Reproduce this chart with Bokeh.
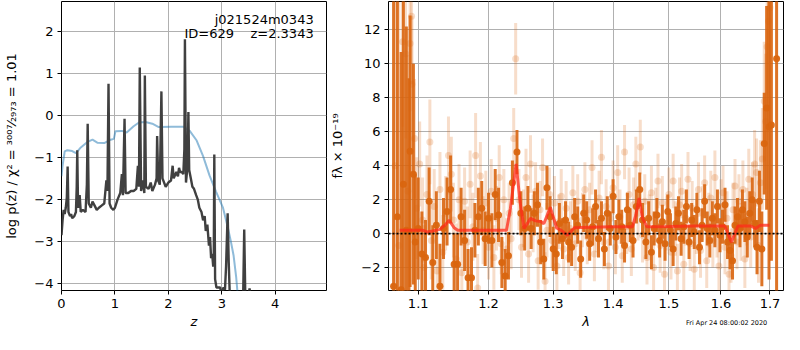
from bokeh.plotting import figure
from bokeh.layouts import row, column
from bokeh.models import Range1d, FixedTicker, Label, PrintfTickFormatter, ColumnDataSource, Div
from bokeh.embed import file_html
from bokeh.resources import INLINE

FONT = "DejaVu Sans"

# ---------------- left panel: log p(z) ----------------
pz_z = [0.00, 0.02, 0.04, 0.06, 0.08, 0.10, 0.115, 0.13, 0.16, 0.18, 0.20, 0.24, 0.27, 0.285, 0.295, 0.31,
        0.34, 0.36, 0.40, 0.45, 0.475, 0.49, 0.51, 0.55, 0.58, 0.62, 0.66, 0.70, 0.75, 0.80, 0.84, 0.86,
        0.88, 0.90, 0.93, 0.97, 1.00, 1.05, 1.10, 1.13, 1.15, 1.18, 1.20, 1.25, 1.30, 1.35, 1.40, 1.43,
        1.45, 1.465, 1.49, 1.53, 1.55, 1.56, 1.58, 1.63, 1.67, 1.70, 1.75, 1.78, 1.79, 1.81, 1.84, 1.87,
        1.89, 1.95, 2.00, 2.05, 2.08, 2.10, 2.15, 2.18, 2.20, 2.22, 2.25, 2.28, 2.30, 2.31, 2.33, 2.36,
        2.375, 2.39, 2.42, 2.45, 2.48, 2.52, 2.55, 2.58, 2.62, 2.65, 2.68, 2.70, 2.73, 2.76, 2.78, 2.80,
        2.82, 2.84, 2.85, 2.86, 2.875, 2.90, 2.93, 2.97, 3.00, 3.03, 3.06, 3.08, 3.11, 3.13, 3.15, 3.40,
        3.42, 3.44, 3.50, 3.52, 3.54]
pz_logp = [-2.85, -2.5, -2.25, -2.35, -2.2, -1.95, -1.22, -2.3, -2.4, -2.35, -2.45, -2.4, -2.3, -1.7, -0.83, -2.2,
           -1.9, -2.3, -2.25, -2.3, -1.65, -0.2, -2.1, -2.2, -2.05, -2.15, -2.25, -2.2, -2.15, -2.1, -1.55, -1.8,
           0.75, -2.1, -2.2, -2.25, -2.2, -2.0, -1.85, -1.4, -1.9, -0.08, -1.85, -1.85, -1.8, -1.8, -1.75, -1.2,
           -1.7, 1.14, -1.8, -1.55, -1.85, 0.95, -1.7, -1.75, -1.6, -1.8, -1.65, -1.5, -0.49, -1.55, -1.65, 0.57,
           -1.5, -1.7, -1.6, -1.55, -1.2, -1.5, -1.35, -1.45, -1.25, -1.35, -1.35, -1.4, -0.8, 1.81, -1.6, -1.2,
           0.08, -1.3, -1.5, -1.7, -1.75, -1.9, -2.0, -2.2, -2.3, -2.5, -2.4, -2.75, -2.6, -3.1, -2.9, -3.4,
           -3.3, -3.6, -3.4, -0.93, -3.9, -4.1, -4.1, -4.1, -4.3, -4.1, -4.15, -3.6, -2.33, -3.5, -4.3, -4.3,
           -2.72, -4.3, -4.3, -4.12, -4.3]

chi_z = [0.00, 0.02, 0.06, 0.11, 0.20, 0.27, 0.35, 0.49, 0.58, 0.67, 0.80, 0.92, 0.98, 1.01, 1.13, 1.22, 1.35,
         1.45, 1.57, 1.70, 1.82, 2.06, 2.28, 2.40, 2.53, 2.65, 2.77, 2.89, 3.02, 3.11, 3.17, 3.22, 3.27, 3.30]
chi_logp = [-1.45, -1.2, -0.86, -0.83, -0.85, -0.9, -0.78, -0.63, -0.58, -0.65, -0.66, -0.58, -0.56, -0.38, -0.37,
            -0.41, -0.26, -0.17, -0.16, -0.2, -0.28, -0.27, -0.27, -0.37, -0.6, -0.97, -1.43, -1.81, -2.19, -2.65,
            -3.0, -3.33, -3.86, -4.3]

pz_xticks = [0, 1, 2, 3, 4]
pz_yticks = [-4, -3, -2, -1, 0, 1, 2]

# ---------------- right panel: spectrum ----------------
dark_lam = [1.067, 1.072, 1.077, 1.080, 1.084, 1.0875, 1.089, 1.0935, 1.096, 1.100, 1.105, 1.110, 1.115, 1.120,
            1.125, 1.130, 1.135, 1.140, 1.145, 1.150, 1.155, 1.160, 1.165, 1.170, 1.175, 1.180, 1.185, 1.190,
            1.195, 1.200, 1.205, 1.210, 1.215, 1.220, 1.225, 1.230, 1.236, 1.243, 1.249, 1.255, 1.260, 1.265,
            1.270, 1.275, 1.280, 1.285, 1.290, 1.295, 1.300, 1.305, 1.310, 1.315, 1.320, 1.325, 1.330, 1.335,
            1.340, 1.345, 1.350, 1.355, 1.360, 1.365, 1.370, 1.375, 1.380, 1.385, 1.390, 1.395, 1.400, 1.405,
            1.410, 1.415, 1.420, 1.425, 1.430, 1.435, 1.441, 1.447, 1.452, 1.458, 1.463, 1.468, 1.473, 1.478,
            1.483, 1.488, 1.493, 1.498, 1.503, 1.508, 1.513, 1.518, 1.523, 1.528, 1.533, 1.538, 1.543, 1.548,
            1.553, 1.558, 1.563, 1.568, 1.573, 1.578, 1.583, 1.588, 1.593, 1.598, 1.603, 1.608, 1.613, 1.618,
            1.623, 1.628, 1.633, 1.638, 1.643, 1.648, 1.653, 1.658, 1.663, 1.668, 1.673, 1.678, 1.683, 1.688,
            1.693, 1.698, 1.703, 1.714]
dark_f = [-3.1, 1.0, -3.3, 2.9, 0.2, 0.15, 4.85, 3.5, -0.5, 0.3, -1.2, -1.4, 1.9, -1.7,
          0.5, -3.1, 0.3, 1.3, 2.6, -1.8, -1.8, 1.0, -0.4, -2.6, -2.6, 0.2, 1.0, 1.5,
          -0.3, 0.9, -0.4, 2.3, 1.1, -1.7, -2.5, -1.3, 3.0, 4.8, 1.2, 0.3, 1.5, 0.3,
          1.2, 1.7, -0.5, -1.5, 2.7, 1.0, -0.9, -1.2, 0.6, -0.3, 0.8, -0.5, -0.8, 1.0,
          0.5, -1.5, 1.2, 0.8, -0.6, 0.4, 1.6, -0.3, 0.9, -0.9, 1.2, 0.3, 2.2, -0.2,
          1.0, 0.4, -0.7, 1.4, 0.5, -0.4, 1.6, 2.6, 0.8, -0.5, 0.9, -1.1, 0.3, 1.1,
          -0.4, 0.7, -0.6, 1.3, 0.2, -0.9, 0.6, 1.2, -0.3, 0.4, 1.6, -0.5, 0.8, 0.1,
          1.4, -0.8, 0.5, 1.9, 0.3, -0.4, 0.9, 0.2, 1.6, -0.1, 0.4, 1.7, -0.5, -1.0,
          -1.6, 0.5, 1.0, 0.3, 1.4, 0.7, -0.2, 1.2, 2.0, 0.6, -0.8, 1.9, -0.9, 5.3,
          7.4, 6.3, 6.4, 10.3]
dark_err = [18, 16, 14, 11, 12, 9, 8, 6.5, 4, 3, 2.5, 2.2, 2.0, 2.2,
            2.0, 2.5, 1.8, 2.0, 2.0, 1.8, 1.8, 1.7, 1.8, 1.7, 1.8, 1.6, 1.7, 1.6,
            1.6, 1.5, 1.6, 1.5, 1.6, 1.5, 1.6, 1.4, 1.3, 1.3, 1.3, 1.3, 1.3, 1.2,
            1.3, 1.3, 1.3, 1.2, 1.3, 1.2, 1.3, 1.2, 1.2, 1.2, 1.1, 1.2, 1.1, 1.1,
            1.1, 1.1, 1.1, 1.1, 1.0, 1.1, 1.0, 1.1, 1.0, 1.0, 1.0, 1.0, 1.0, 1.0,
            1.0, 1.0, 1.0, 1.0, 1.0, 1.0, 1.0, 1.0, 1.0, 1.0, 1.0, 1.0, 1.0, 1.0,
            1.0, 1.0, 1.0, 1.0, 1.0, 1.0, 1.0, 1.0, 1.0, 1.0, 1.0, 1.0, 1.0, 1.0,
            1.0, 1.0, 1.0, 1.0, 1.0, 1.0, 1.0, 1.0, 1.0, 1.0, 1.0, 1.0, 1.0, 1.1,
            1.1, 1.1, 1.1, 1.1, 1.2, 1.2, 1.2, 1.3, 1.3, 1.4, 1.6, 1.8, 2.2, 3.0,
            6.0, 9.0, 8.0, 20.0]

light_lam = [1.069, 1.074, 1.079, 1.083, 1.086, 1.089, 1.091, 1.0915, 1.095, 1.098, 1.102, 1.106, 1.108, 1.112,
             1.116, 1.118, 1.122, 1.126, 1.130, 1.134, 1.138, 1.142, 1.146, 1.149, 1.153, 1.157, 1.161, 1.165,
             1.169, 1.173, 1.177, 1.181, 1.184, 1.188, 1.192, 1.196, 1.200, 1.204, 1.208, 1.212, 1.216, 1.219,
             1.223, 1.227, 1.231, 1.234, 1.238, 1.241, 1.246, 1.250, 1.253, 1.257, 1.261, 1.264, 1.268, 1.272,
             1.276, 1.279, 1.283, 1.287, 1.290, 1.294, 1.298, 1.302, 1.306, 1.309, 1.313, 1.317, 1.321, 1.325,
             1.328, 1.332, 1.336, 1.340, 1.344, 1.348, 1.352, 1.356, 1.360, 1.364, 1.368, 1.372, 1.376, 1.380,
             1.384, 1.388, 1.392, 1.396, 1.400, 1.404, 1.408, 1.412, 1.416, 1.420, 1.424, 1.428, 1.432, 1.436,
             1.440, 1.444, 1.448, 1.452, 1.456, 1.460, 1.464, 1.468, 1.472, 1.476, 1.480, 1.484, 1.488, 1.492,
             1.496, 1.500, 1.504, 1.508, 1.512, 1.516, 1.520, 1.524, 1.528, 1.532, 1.536, 1.540, 1.544, 1.548,
             1.552, 1.556, 1.560, 1.564, 1.568, 1.572, 1.576, 1.580, 1.584, 1.588, 1.592, 1.596, 1.600, 1.604,
             1.608, 1.612, 1.616, 1.620, 1.624, 1.628, 1.632, 1.636, 1.640, 1.644, 1.648, 1.652, 1.656, 1.660,
             1.664, 1.668, 1.672, 1.676, 1.680, 1.684, 1.688, 1.691, 1.694, 1.697, 1.700]
light_f = [4.0, -0.7, 11.3, 10.6, 2.5, 11.2, 12.8, 8.8, 5.6, 1.5, 4.1, 0.8, -2.0, 2.3,
           5.4, -0.4, 1.6, -2.2, 2.6, -1.1, 1.2, 4.6, 3.5, 0.8, -1.5, 2.0, -2.3, 1.9,
           -0.5, 2.9, 0.4, 4.6, -3.2, 3.4, 0.2, 1.8, -0.8, 2.5, -1.4, 0.9, 3.3, -0.6,
           2.0, -0.9, 1.2, -0.3, 5.6, 10.3, 2.0, -0.8, 0.9, 3.3, -1.2, 4.1, 0.6, 2.5,
           -1.6, 1.4, 3.9, -2.8, 0.2, 2.3, -0.4, 1.8, -1.9, 0.7, 2.2, -0.9, 1.5, -1.4,
           0.3, 2.4, -0.6, 1.9, -2.3, 0.8, 2.6, -0.2, 1.4, 3.9, -1.2, 0.5, 2.1, 4.5,
           -0.5, 1.6, -1.9, 0.9, 2.7, -0.8, 3.6, 1.0, -1.3, 4.8, 0.4, 2.3, -0.9, 1.7,
           4.1, 1.2, 5.1, -0.1, 1.9, -1.4, 0.7, 2.4, -2.0, 1.1, 3.1, -0.7, 1.8, -2.4,
           0.6, 2.3, -1.1, 3.1, 0.3, -2.2, 1.7, 2.5, -1.8, 0.9, 3.2, -0.6, 1.5, -2.1,
           0.4, 2.6, -1.0, 1.2, 3.0, -1.6, 0.8, 2.1, -0.4, 3.3, 0.2, -1.9, 1.6, 2.4,
           -0.8, 0.9, -2.4, -1.3, 1.4, 2.8, -0.5, 1.9, 0.1, 2.6, -1.5, 1.0, 3.2, -0.2,
           2.3, 4.1, 3.6, -0.7, 3.0, 4.4, 7.8, 6.6, 11.0, 12.5, 13.3]
light_err = [20, 15, 5, 5, 8, 4, 4, 4, 3.5, 3, 2.5, 2.5, 2.5, 2.3,
             2.5, 2.3, 2.2, 2.3, 2.2, 2.2, 2.2, 2.3, 2.2, 2.2, 2.1, 2.1, 2.1, 2.0,
             2.1, 2.0, 2.0, 2.5, 2.0, 2.0, 2.0, 1.9, 1.9, 1.9, 1.9, 1.9, 1.9, 1.8,
             1.8, 1.8, 1.8, 1.8, 1.8, 2.1, 1.8, 1.8, 1.7, 1.7, 1.7, 1.7, 1.7, 1.7,
             1.7, 1.7, 1.7, 1.7, 1.6, 1.6, 1.6, 1.6, 1.6, 1.6, 1.6, 1.6, 1.6, 1.6,
             1.6, 1.6, 1.6, 1.6, 1.6, 1.6, 1.6, 1.6, 1.6, 1.6, 1.6, 1.6, 1.6, 1.6,
             1.6, 1.6, 1.6, 1.6, 1.6, 1.6, 1.6, 1.6, 1.6, 1.6, 1.6, 1.6, 1.6, 1.6,
             1.6, 1.6, 1.6, 1.6, 1.6, 1.6, 1.6, 1.6, 1.6, 1.6, 1.6, 1.6, 1.6, 1.6,
             1.6, 1.6, 1.6, 1.6, 1.6, 1.6, 1.6, 1.6, 1.6, 1.6, 1.6, 1.6, 1.6, 1.6,
             1.6, 1.6, 1.6, 1.6, 1.6, 1.6, 1.6, 1.6, 1.6, 1.6, 1.6, 1.6, 1.6, 1.6,
             1.6, 1.6, 1.6, 1.6, 1.6, 1.6, 1.6, 1.6, 1.7, 1.7, 1.7, 1.7, 1.8, 1.8,
             1.9, 2.0, 2.0, 2.2, 2.5, 3.0, 3.5, 4.0, 5.0, 6.0, 7.0]

model_lam = [1.075, 1.090, 1.106, 1.112, 1.120, 1.130, 1.137, 1.143, 1.150, 1.155, 1.227, 1.233, 1.2417, 1.248,
             1.254, 1.264, 1.272, 1.280, 1.285, 1.2953, 1.3056, 1.3136, 1.3231, 1.3347, 1.36, 1.40, 1.434, 1.440,
             1.4458, 1.452, 1.460, 1.50, 1.55, 1.6077, 1.6207, 1.634, 1.66, 1.670, 1.68, 1.699]
model_f = [0.2, 0.2, 0.2, 0.1, 0.15, 0.25, 0.5, 0.78, 0.35, 0.2, 0.2, 1.5, 4.1, 1.8,
           0.3, 0.9, 0.75, 0.72, 0.58, 1.55, 0.33, 0.18, -0.1, 0.35, 0.38, 0.4, 0.4, 1.1,
           2.1, 0.9, 0.4, 0.42, 0.45, 0.45, -0.5, 0.45, 0.45, 0.3, 0.5, 0.5]

sp_xticks = [1.1, 1.2, 1.3, 1.4, 1.5, 1.6, 1.7]
sp_yticks = [-2, 0, 2, 4, 6, 8, 10, 12]

timestamp = "Fri Apr 24 08:00:02 2020"

ORANGE = "#d9650f"


def style(p):
    p.outline_line_color = "black"
    p.outline_line_alpha = 1.0
    p.outline_line_width = 1
    p.background_fill_color = "white"
    p.border_fill_color = "white"
    p.grid.grid_line_color = "#b0b0b0"
    p.grid.grid_line_width = 1
    p.grid.grid_line_alpha = 1.0
    for ax in p.axis:
        ax.axis_line_color = None
        ax.major_tick_line_color = "black"
        ax.major_tick_out = 4
        ax.major_tick_in = 0
        ax.minor_tick_line_color = None
        ax.major_label_text_font = FONT
        ax.major_label_text_font_size = "13px"
        ax.major_label_text_color = "black"
        ax.major_label_standoff = 4
        ax.axis_label_text_font = FONT
        ax.axis_label_text_font_size = "13px"
        ax.axis_label_text_color = "black"


# left figure
p1 = figure(width=327, height=334, x_range=Range1d(0, 4.96), y_range=Range1d(-4.17, 2.71),
            output_backend="svg", toolbar_location=None,
            min_border_left=61, min_border_right=1, min_border_top=1, min_border_bottom=44)
style(p1)
p1.xaxis.ticker = FixedTicker(ticks=pz_xticks)
p1.yaxis.ticker = FixedTicker(ticks=pz_yticks)
p1.yaxis.major_label_overrides = {t: (("\u2212" + str(-t)) if t < 0 else str(t)) for t in pz_yticks}
p1.xaxis.axis_label = "z"
p1.xaxis.axis_label_text_font_style = "italic"
p1.xaxis.axis_label_standoff = 3
p1.yaxis.axis_label = "log p(z) / \u03c7\u00b2 = \u00b3\u2070\u2070\u2077\u2044\u2082\u2089\u2087\u2083 = 1.01"
p1.yaxis.axis_label_text_font_style = "normal"
p1.yaxis.axis_label_standoff = 12

p1.line(chi_z, chi_logp, line_color="#1f77b4", line_alpha=0.5, line_width=2)
p1.line(pz_z, pz_logp, line_color="#404040", line_width=2.4)

for yy, txt in [(2.28, "j021524m0343"), (1.96, "ID=629\u00a0\u00a0\u00a0\u00a0z=2.3343")]:
    p1.add_layout(Label(x=4.72, y=yy, text=txt, text_align="right", text_baseline="middle",
                        text_font=FONT, text_font_size="13px", text_color="black"))

# right figure
p2 = figure(width=457, height=334, x_axis_type="log", x_range=Range1d(1.0603, 1.7287),
            y_range=Range1d(-3.35, 13.67), output_backend="svg", toolbar_location=None,
            min_border_left=57, min_border_right=1, min_border_top=1, min_border_bottom=44)
style(p2)
p2.xaxis.ticker = FixedTicker(ticks=sp_xticks, minor_ticks=[])
p2.xaxis.formatter = PrintfTickFormatter(format="%.1f")
p2.yaxis.ticker = FixedTicker(ticks=sp_yticks)
p2.yaxis.major_label_overrides = {t: (("\u2212" + str(-t)) if t < 0 else str(t)) for t in sp_yticks}
p2.xaxis.axis_label = "\u03bb"
p2.xaxis.axis_label_text_font_style = "italic"
p2.xaxis.axis_label_standoff = 3
p2.yaxis.axis_label = "f\u03bb \u00d7 10\u207b\u00b9\u2079"
p2.yaxis.axis_label_text_font_style = "normal"
p2.yaxis.axis_label_standoff = 13

light = ColumnDataSource(dict(x=light_lam, y=light_f,
                              lo=[f - e for f, e in zip(light_f, light_err)],
                              hi=[f + e for f, e in zip(light_f, light_err)]))
dark = ColumnDataSource(dict(x=dark_lam, y=dark_f,
                             lo=[f - e for f, e in zip(dark_f, dark_err)],
                             hi=[f + e for f, e in zip(dark_f, dark_err)]))

p2.segment(x0="x", y0="lo", x1="x", y1="hi", source=light, line_color=ORANGE, line_alpha=0.22, line_width=3)
p2.scatter(x="x", y="y", source=light, size=7, fill_color=ORANGE, fill_alpha=0.22, line_color=None)
p2.segment(x0="x", y0="lo", x1="x", y1="hi", source=dark, line_color=ORANGE, line_alpha=0.9, line_width=3)
p2.scatter(x="x", y="y", source=dark, size=7, fill_color=ORANGE, fill_alpha=0.95, line_color=None)
p2.line(model_lam, model_f, line_color="#ff2a1a", line_alpha=0.75, line_width=3)
p2.line([1.0603, 1.7287], [0, 0], line_color="black", line_width=1.6, line_dash="2 2")

stamp = Div(text=timestamp, width=110, height=8, margin=(-15, 0, 0, 686),
            styles={"font-size": "6.5px", "font-family": "DejaVu Sans", "line-height": "8px",
                    "white-space": "nowrap", "position": "relative", "z-index": "10",
                    "color": "black"})

layout = column(row(p1, p2), stamp)
open("out.html", "w").write(file_html(layout, INLINE))
